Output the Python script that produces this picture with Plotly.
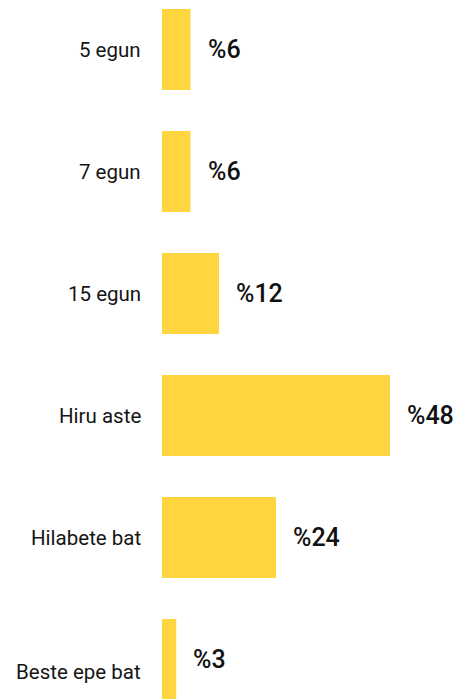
import plotly.graph_objects as go

categories = ["5 egun", "7 egun", "15 egun", "Hiru aste", "Hilabete bat", "Beste epe bat"]
values = [6, 6, 12, 48, 24, 3]
value_labels = ["%6", "%6", "%12", "%48", "%24", "%3"]

fig = go.Figure()
fig.add_trace(go.Bar(
    x=values, y=categories, orientation="h",
    marker=dict(color="#FFD640", line=dict(width=0)),
    width=0.664,
    hoverinfo="skip",
))

for c, v, t in zip(categories, values, value_labels):
    fig.add_annotation(x=v, y=c, text=t, showarrow=False, xanchor="left",
                       xshift=15, yshift=0,
                       font=dict(family="Roboto", size=25, color="#111111", weight=500))

# category labels (last one sits slightly lower in the reference)
for i, c in enumerate(categories):
    fig.add_annotation(x=0, xref="paper", y=c, text=c, showarrow=False,
                       xanchor="right", xshift=-19,
                       yshift=-12 if i == len(categories) - 1 else 0,
                       font=dict(family="Roboto", size=20.5, color="#151515"))

fig.update_layout(
    width=458, height=699,
    margin=dict(l=162, r=0, t=0, b=0),
    paper_bgcolor="white", plot_bgcolor="white",
    showlegend=False,
    font=dict(family="Roboto", size=20, color="#151515"),
)
fig.update_xaxes(range=[0, 296 / 4.75], visible=False, showgrid=False, zeroline=False)
fig.update_yaxes(categoryorder="array", categoryarray=categories,
                 range=[5.3238, -0.4057], showgrid=False, zeroline=False,
                 showline=False, ticks="", showticklabels=False)

fig.write_html("out.html", config={"displayModeBar": False},
               post_script="document.body.style.margin='0';document.body.style.overflow='hidden';")
